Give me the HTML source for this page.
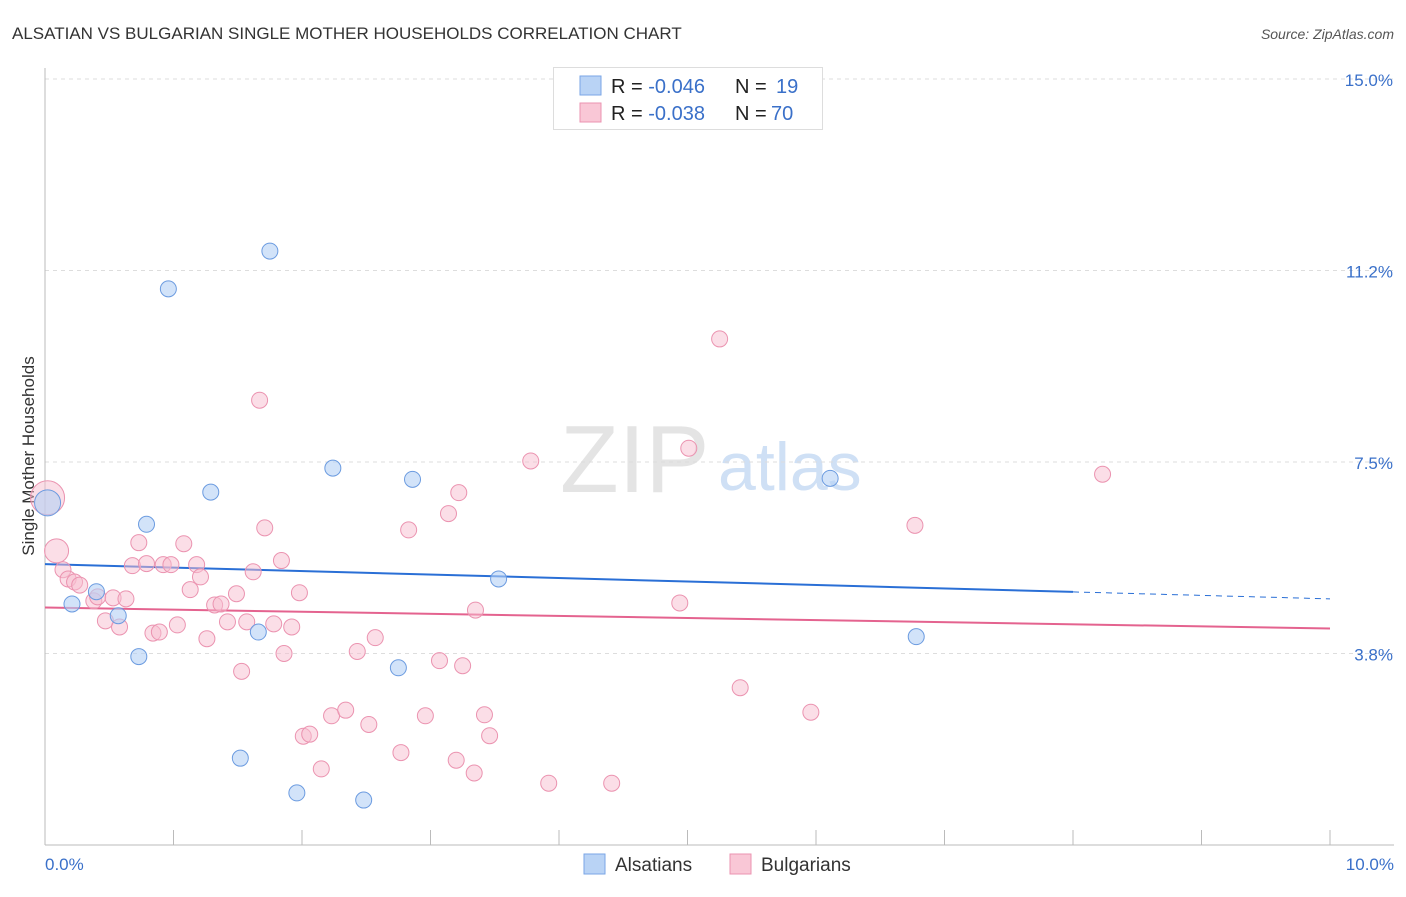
<!DOCTYPE html>
<html><head><meta charset="utf-8"><style>
body{margin:0;background:#fff;font-family:"Liberation Sans",sans-serif;}
svg text{font-family:"Liberation Sans",sans-serif;}
</style></head><body>
<svg id="chart" width="1406" height="892">
<text x="12" y="39" font-size="17" fill="#333">ALSATIAN VS BULGARIAN SINGLE MOTHER HOUSEHOLDS CORRELATION CHART</text>
<text x="1394" y="39" font-size="14" fill="#555" font-style="italic" text-anchor="end">Source: ZipAtlas.com</text>
<text x="560" y="492" font-size="96" fill="#e4e4e4" font-family="Liberation Serif">ZIP</text>
<text x="718" y="490" font-size="68" fill="#cfe0f5">atlas</text>
<text transform="translate(34,456) rotate(-90)" font-size="17" fill="#333" text-anchor="middle">Single Mother Households</text>
<g id="grid"></g><g id="axes"></g><g id="lines"></g><g id="pts"></g>
<g>
<rect x="553.5" y="67.5" width="269" height="62" fill="#fff" stroke="#ddd"/>
<rect x="580" y="76" width="21" height="19" fill="#b9d3f5" stroke="#7aa6e6"/>
<rect x="580" y="103" width="21" height="19" fill="#f9c7d6" stroke="#eb93b0"/>
<text x="611" y="93" font-size="20" fill="#222">R = <tspan fill="#3a70c9">-0.046</tspan><tspan x="735">N = </tspan><tspan x="776" fill="#3a70c9">19</tspan></text>
<text x="611" y="120" font-size="20" fill="#222">R = <tspan fill="#3a70c9">-0.038</tspan><tspan x="735">N = </tspan><tspan x="771" fill="#3a70c9">70</tspan></text>
</g>
<g>
<rect x="584" y="854" width="21" height="20" fill="#b9d3f5" stroke="#7aa6e6"/>
<text x="615" y="871" font-size="19" fill="#333">Alsatians</text>
<rect x="730" y="854" width="21" height="20" fill="#f9c7d6" stroke="#eb93b0"/>
<text x="761" y="871" font-size="19" fill="#333">Bulgarians</text>
</g>
</svg>
<script>
const yTicks=[15.0,11.25,7.5,3.75];
const yTickLabels=["15.0%","11.2%","7.5%","3.8%"];
const xTickLabels=["0.0%","10.0%"];
const blueX=[0.02,0.21,0.40,0.57,0.73,0.79,0.96,1.29,1.52,1.66,1.75,1.96,2.24,2.48,2.75,2.86,3.53,6.11,6.78];
const blueY=[6.70,4.72,4.96,4.49,3.69,6.28,10.89,6.91,1.70,4.17,11.63,1.02,7.38,0.88,3.47,7.16,5.21,7.18,4.08];
const pinkX=[0.02,0.09,0.14,0.18,0.23,0.27,0.38,0.41,0.47,0.53,0.58,0.63,0.68,0.73,0.79,0.84,0.89,0.92,0.98,1.03,1.08,1.13,1.18,1.21,1.26,1.32,1.37,1.42,1.49,1.53,1.57,1.62,1.67,1.71,1.78,1.84,1.86,1.92,1.98,2.01,2.06,2.15,2.23,2.34,2.43,2.52,2.57,2.77,2.83,2.96,3.07,3.14,3.20,3.22,3.25,3.34,3.35,3.42,3.46,3.78,3.92,4.41,4.94,5.01,5.25,5.41,5.96,6.77,8.23];
const pinkY=[6.80,5.76,5.39,5.21,5.15,5.09,4.78,4.86,4.39,4.84,4.27,4.82,5.47,5.92,5.51,4.15,4.17,5.49,5.49,4.31,5.90,5.00,5.49,5.25,4.04,4.70,4.72,4.37,4.92,3.40,4.37,5.35,8.71,6.21,4.33,5.57,3.75,4.27,4.94,2.13,2.17,1.49,2.53,2.64,3.79,2.36,4.06,1.81,6.17,2.53,3.61,6.49,1.66,6.90,3.51,1.41,4.60,2.55,2.14,7.52,1.21,1.21,4.74,7.77,9.91,3.08,2.60,6.26,7.26];
const blueTrend=[5.50,4.82];
const pinkTrend=[4.65,4.24];
const NS="http://www.w3.org/2000/svg";
const X0=45,X1=1330,Y0=845,YT=79;
const xs=v=>X0+(v/10)*(X1-X0);
const ys=v=>Y0-(v/15)*(Y0-YT);
function mk(t,a,p){const e=document.createElementNS(NS,t);for(const k in a)e.setAttribute(k,a[k]);document.getElementById(p).appendChild(e);return e;}
yTicks.forEach((t,i)=>{
 const l=mk('line',{x1:45,x2:1394,y1:ys(t),y2:ys(t),stroke:'#ddd','stroke-dasharray':'4,4'},'grid');
 
 
 const tx=mk('text',{x:1393,y:ys(t)+7,'font-size':17,fill:'#3a70c9','text-anchor':'end'},'grid');
 tx.textContent=yTickLabels[i];
 
 
});
const ax=mk('line',{x1:45,x2:1394,y1:845,y2:845,stroke:'#bbb'},'axes');


const ay=mk('line',{x1:45,x2:45,y1:68,y2:845,stroke:'#bbb'},'axes');


for(let i=0;i<=10;i++){const t=mk('line',{x1:xs(i),x2:xs(i),y1:830,y2:845,stroke:'#bbb'},'axes');
 
 }
[[0,'start',45],[10,'end',1394]].forEach((d,i)=>{const t=mk('text',{x:d[2],y:870,'font-size':17,fill:'#3a70c9','text-anchor':d[1]},'axes');t.textContent=xTickLabels[i];
 
 });
const bsl=(blueTrend[1]-blueTrend[0])/10;
const b1=mk('line',{x1:xs(0),y1:ys(blueTrend[0]),x2:xs(8),y2:ys(blueTrend[0]+bsl*8),stroke:'#2a6fd6','stroke-width':2},'lines');


const b2=mk('line',{x1:xs(8),y1:ys(blueTrend[0]+bsl*8),x2:xs(10),y2:ys(blueTrend[1]),stroke:'#2a6fd6','stroke-width':1,'stroke-dasharray':'6,5'},'lines');


const p1=mk('line',{x1:xs(0),y1:ys(pinkTrend[0]),x2:xs(10),y2:ys(pinkTrend[1]),stroke:'#e4638f','stroke-width':2},'lines');


pinkX.forEach((v,i)=>{const r=i==0?17:(i==1?12:8);const c=mk('circle',{cx:xs(v),cy:ys(pinkY[i]),r:r,fill:'rgba(248,190,208,0.5)',stroke:'#eb93b0','stroke-width':1},'pts');
 
 });
blueX.forEach((v,i)=>{const r=i==0?13:8;const c=mk('circle',{cx:xs(v),cy:ys(blueY[i]),r:r,fill:'rgba(180,208,245,0.6)',stroke:'#6b9be0','stroke-width':1},'pts');
 
 });
</script>
</body></html>
